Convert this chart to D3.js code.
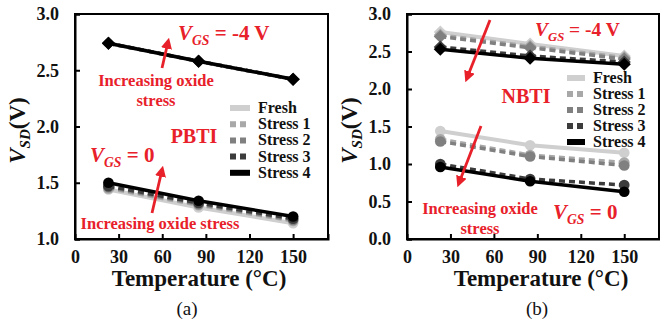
<!DOCTYPE html>
<html><head><meta charset="utf-8">
<script src="https://cdn.jsdelivr.net/npm/d3@7"></script>
<style>
body{margin:0;background:#fff;}
svg{display:block;}
</style></head>
<body><svg id="c" width="660" height="322"></svg>
<script>
// ---- data ----
const temps = [23, 85, 150];
const seriesNames = ["Fresh", "Stress 1", "Stress 2", "Stress 3", "Stress 4"];
const xTicks = [0, 30, 60, 90, 120, 150];
const yTicksA = [1.0, 1.5, 2.0, 2.5, 3.0];
const yTicksB = [0.0, 0.5, 1.0, 1.5, 2.0, 2.5, 3.0];
// Panel (a) PBTI
const aNeg4 = [
  [2.74, 2.58, 2.42],
  [2.74, 2.58, 2.42],
  [2.74, 2.58, 2.42],
  [2.74, 2.58, 2.42],
  [2.74, 2.58, 2.42]
];
const aZero = [
  [1.44, 1.28, 1.14],
  [1.45, 1.30, 1.16],
  [1.46, 1.31, 1.17],
  [1.47, 1.32, 1.18],
  [1.50, 1.34, 1.20]
];
// Panel (b) NBTI
const bNeg4 = [
  [2.76, 2.60, 2.44],
  [2.72, 2.57, 2.42],
  [2.70, 2.55, 2.40],
  [2.56, 2.44, 2.36],
  [2.53, 2.41, 2.33]
];
const bZero = [
  [1.44, 1.25, 1.15],
  [1.33, 1.12, 1.02],
  [1.30, 1.10, 0.98],
  [1.00, 0.80, 0.72],
  [0.96, 0.77, 0.63]
];

// ---- styles ----
const colors = ["#cfcfcf", "#a8a8a8", "#808080", "#3c3c3c", "#000000"];
const dashes = [null, "6,4", "6,4", "6,4", null];
const widths = [4, 3.5, 3.5, 3.5, 3.5];
const RED = "#e8202a";
const INK = "#111";
const FONT = "Liberation Serif";

const svg = d3.select("#c");

function panel(opt) {
  const {x0, x1, y0, y1, yDomain, yTicks, groups, legend, label, labelX, xLabelX} = opt;
  const g = svg.append("g");
  const x = d3.scaleLinear().domain([0, 174]).range([x0, x1]);
  const y = d3.scaleLinear().domain(yDomain).range([y1, y0]);

  g.append("rect").attr("x", x0).attr("y", y0).attr("width", x1 - x0).attr("height", y1 - y0)
    .attr("fill", "none").attr("stroke", "#000").attr("stroke-width", 2);

  const xa = g.append("g").attr("transform", `translate(0,${y1})`)
    .call(d3.axisBottom(x).tickValues(xTicks).tickSize(-5).tickPadding(11).tickFormat(d3.format("d")));
  const ya = g.append("g").attr("transform", `translate(${x0},0)`)
    .call(d3.axisLeft(y).tickValues(yTicks).tickSize(-5).tickPadding(16).tickFormat(d3.format(".1f")));
  [xa, ya].forEach(a => {
    a.attr("font-family", FONT);
    a.select(".domain").attr("stroke", "#000").attr("stroke-width", 2);
    a.selectAll(".tick line").attr("stroke", "#000").attr("stroke-width", 2);
    a.selectAll(".tick text").attr("font-size", 18).attr("font-weight", "bold").attr("fill", INK);
  });
  xa.selectAll(".tick").filter(d => d === 0).select("line").remove();

  const line = d3.line().x((d, i) => x(temps[i])).y(d => y(d));

  groups.forEach(grp => {
    grp.data.forEach((vals, si) => {
      g.append("path").datum(vals).attr("d", line).attr("fill", "none")
        .attr("stroke", colors[si]).attr("stroke-width", widths[si])
        .attr("stroke-dasharray", dashes[si]);
      const sym = d3.symbol().type(grp.shape === "diamond" ? d3.symbolDiamond2 : d3.symbolCircle)
        .size(grp.shape === "diamond" ? 110 : 90);
      g.selectAll(null).data(vals).join("path")
        .attr("transform", (d, i) => `translate(${x(temps[i])},${y(d)})`)
        .attr("d", sym).attr("fill", colors[si]);
    });
  });

  seriesNames.forEach((n, i) => {
    const ly = legend.y + i * legend.dy;
    g.append("line").attr("x1", legend.x).attr("x2", legend.x + legend.w)
      .attr("y1", ly).attr("y2", ly).attr("stroke", colors[i]).attr("stroke-width", 6)
      .attr("stroke-dasharray", dashes[i]);
    g.append("text").attr("x", legend.x + legend.w + 8).attr("y", ly + 5)
      .attr("font-size", legend.fs).attr("font-weight", "bold").attr("fill", INK).text(n);
  });

  const yl = g.append("text").attr("transform", `translate(${x0 - 50},${(y0 + y1) / 2 + 4}) rotate(-90)`)
    .attr("text-anchor", "middle").attr("font-size", 23).attr("font-weight", "bold").attr("fill", INK);
  yl.append("tspan").attr("font-style", "italic").text("V");
  yl.append("tspan").attr("font-style", "italic").attr("font-size", 15).attr("dy", 5).text("SD");
  yl.append("tspan").attr("dy", -5).text("(V)");

  g.append("text").attr("x", xLabelX).attr("y", 286).attr("text-anchor", "middle")
    .attr("font-size", 23).attr("font-weight", "bold").attr("fill", INK).text("Temperature (°C)");
  g.append("text").attr("x", labelX).attr("y", 315).attr("text-anchor", "middle")
    .attr("font-size", 19).attr("fill", INK).text(label);
  return {x, y};
}

function vgs(x, yb, val, fs) {
  const t = svg.append("text").attr("x", x).attr("y", yb).attr("font-size", fs)
    .attr("font-weight", "bold").attr("fill", RED);
  t.append("tspan").attr("font-style", "italic").text("V");
  t.append("tspan").attr("font-style", "italic").attr("font-size", fs * 0.65).attr("dy", 5).text("GS");
  t.append("tspan").attr("dy", -5).text(" = " + val);
}
function redText(x, yb, s, fs, anchor) {
  svg.append("text").attr("x", x).attr("y", yb).attr("font-size", fs).attr("font-weight", "bold")
    .attr("fill", RED).attr("text-anchor", anchor || "middle").text(s);
}
function arrow(xa, ya, xb, yb) {
  svg.append("line").attr("x1", xa).attr("y1", ya).attr("x2", xb).attr("y2", yb)
    .attr("stroke", RED).attr("stroke-width", 2.8).attr("marker-end", "url(#ah)");
}

svg.append("defs").append("marker").attr("id", "ah").attr("viewBox", "0 0 10 10")
  .attr("refX", 6).attr("refY", 5).attr("markerWidth", 4).attr("markerHeight", 4)
  .attr("orient", "auto").append("path").attr("d", "M0,0 L10,5 L0,10 z").attr("fill", RED);

panel({x0: 75, x1: 328, y0: 14, y1: 239, yDomain: [1, 3], yTicks: yTicksA,
  groups: [{data: aNeg4, shape: "diamond"}, {data: aZero, shape: "circle"}],
  legend: {x: 230, y: 108, dy: 16.2, w: 20, fs: 16}, label: "(a)", labelX: 187, xLabelX: 199});
panel({x0: 407, x1: 659, y0: 14, y1: 239, yDomain: [0, 3], yTicks: yTicksB,
  groups: [{data: bNeg4, shape: "diamond"}, {data: bZero, shape: "circle"}],
  legend: {x: 567, y: 78, dy: 16, w: 18, fs: 16}, label: "(b)", labelX: 537, xLabelX: 541});

// annotations (a)
vgs(178, 40, "-4 V", 21);
arrow(162, 68, 168, 42);
redText(156, 86, "Increasing oxide", 16.5);
redText(156, 106, "stress", 16.5);
redText(194, 143, "PBTI", 20);
vgs(90, 162, "0", 21);
arrow(152, 213, 162, 170);
redText(160, 229, "Increasing oxide stress", 16.5);

// annotations (b)
vgs(535, 36, "-4 V", 19.5);
arrow(490, 20, 467, 78);
redText(526, 103, "NBTI", 20);
arrow(481, 126, 459, 183);
redText(480, 214, "Increasing oxide", 16.5);
redText(480, 234, "stress", 16.5);
vgs(553, 219, "0", 21);

// apply font to every text
svg.selectAll("text").attr("font-family", FONT);
</script></body></html>
